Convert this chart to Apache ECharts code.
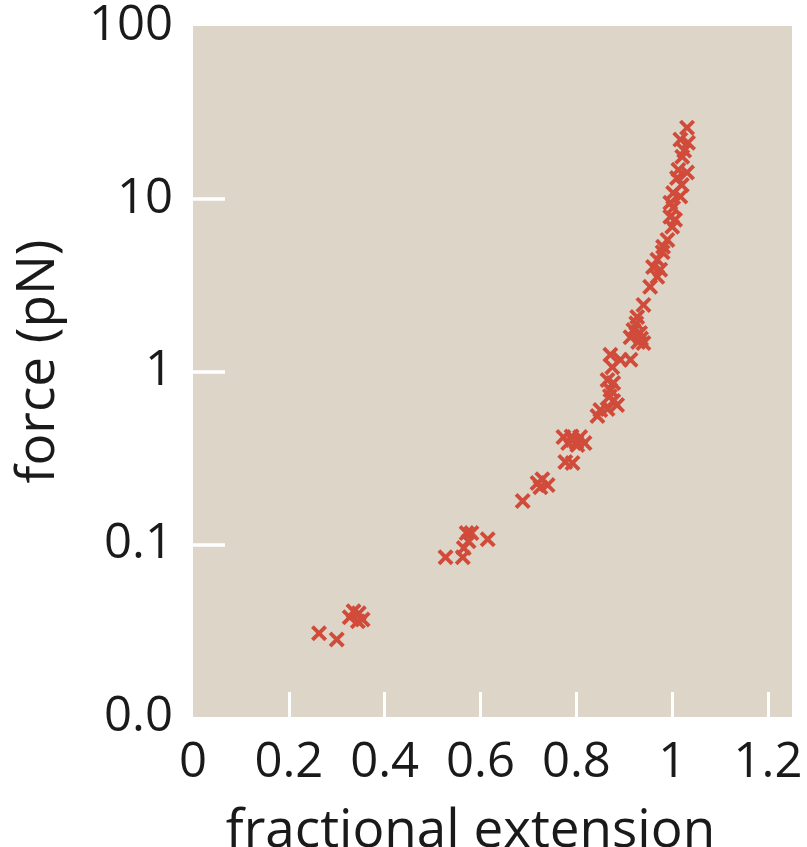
<!DOCTYPE html>
<html>
<head>
<meta charset="utf-8">
<script src="https://cdn.jsdelivr.net/npm/echarts@6/dist/echarts.min.js"></script>
<style>
  html, body { margin: 0; padding: 0; background: #ffffff; }
  #chart { width: 807px; height: 847px; }
</style>
</head>
<body>
<div id="chart"></div>
<script>
  // fractional extension (x) and force in pN (y)
  var extension = [
    0.263, 0.300, 0.327, 0.335, 0.346, 0.354, 0.344,
    0.527, 0.563, 0.565, 0.571, 0.581, 0.575, 0.615,
    0.688, 0.719, 0.729, 0.740, 0.725,
    0.777, 0.792, 0.773, 0.792, 0.808, 0.817, 0.802, 0.783, 0.790, 0.800,
    0.844, 0.850, 0.865, 0.877, 0.885, 0.871, 0.877, 0.865, 0.875, 0.871, 0.892, 0.913, 0.870,
    0.913, 0.919, 0.933, 0.929, 0.940, 0.927, 0.940, 0.935, 0.925,
    0.954, 0.969, 0.975, 0.960, 0.969, 0.980,
    0.981, 0.990, 1.000, 1.006, 0.996, 1.002, 0.996,
    1.017, 1.002, 1.010, 1.031, 1.013, 1.021, 1.033, 1.017, 1.031, 1.020, 1.025
  ];
  var force = [
    0.0305, 0.0281, 0.0378, 0.0409, 0.0398, 0.0367, 0.0358,
    0.084, 0.084, 0.095, 0.116, 0.116, 0.104, 0.107,
    0.178, 0.226, 0.238, 0.220, 0.214,
    0.299, 0.295, 0.417, 0.401, 0.417, 0.385, 0.375, 0.385, 0.420, 0.390,
    0.552, 0.598, 0.607, 0.675, 0.640, 0.781, 0.857, 0.893, 1.06, 1.25, 1.17, 1.17, 0.72,
    1.58, 1.74, 1.67, 1.48, 1.46, 2.07, 2.43, 1.55, 1.90,
    3.09, 3.53, 3.88, 4.03, 4.43, 4.9,
    5.27, 5.78, 6.88, 7.55, 7.87, 8.87, 9.48,
    10.3, 10.8, 13.2, 14.2, 14.7, 17.5, 21.1, 22.0, 25.8, 12.0, 19.0
  ];

  var xTicks = [0, 0.2, 0.4, 0.6, 0.8, 1, 1.2];
  var xTickLabels = ['0', '0.2', '0.4', '0.6', '0.8', '1', '1.2'];
  var yTicks = [0.01, 0.1, 1, 10, 100];
  var yTickLabels = ['0.0', '0.1', '1', '10', '100'];

  var points = extension.map(function (x, i) { return [x, force[i]]; });

  var FONT = '"Open Sans", "Noto Sans", sans-serif';
  var CROSS = 'path://M0,1.7L1.7,0L5,3.3L8.3,0L10,1.7L6.7,5L10,8.3L8.3,10L5,6.7L1.7,10L0,8.3L3.3,5Z';

  function pick(ticks, labels) {
    return function (value) {
      for (var i = 0; i < ticks.length; i++) {
        if (Math.abs(ticks[i] - value) < 1e-9 * Math.max(1, ticks[i])) return labels[i];
      }
      return '';
    };
  }

  var chart = echarts.init(document.getElementById('chart'));
  chart.setOption({
    animation: false,
    backgroundColor: '#ffffff',
    grid: {
      left: 193, right: 15, top: 26, bottom: 130,
      outerBoundsMode: 'none',
      containLabel: false,
      show: true, backgroundColor: '#ddd5c8', borderWidth: 0
    },
    xAxis: {
      type: 'value',
      min: 0, max: 1.25,
      name: 'fractional extension',
      nameLocation: 'middle',
      nameGap: 88,
      nameTextStyle: { fontFamily: FONT, fontSize: 53, color: '#1a1a1a', padding: [0, 44, 0, 0] },
      axisLine: { show: false },
      splitLine: { show: false },
      axisTick: {
        show: true, inside: true, length: 25,
        customValues: xTicks.slice(1),
        lineStyle: { color: '#ffffff', width: 3 }
      },
      axisLabel: {
        customValues: xTicks,
        formatter: pick(xTicks, xTickLabels),
        fontFamily: FONT, fontSize: 49, color: '#1a1a1a', margin: 22
      }
    },
    yAxis: {
      type: 'log',
      logBase: 10,
      min: 0.01, max: 100,
      name: 'force (pN)',
      nameLocation: 'middle',
      nameGap: 128,
      nameRotate: 90,
      nameTextStyle: { fontFamily: FONT, fontSize: 53, color: '#1a1a1a', padding: [0, 0, 0, 20] },
      axisLine: { show: false },
      splitLine: { show: false },
      axisTick: {
        show: true, inside: true, length: 32,
        customValues: [0.1, 1, 10],
        lineStyle: { color: '#ffffff', width: 3.5 }
      },
      axisLabel: {
        customValues: yTicks,
        formatter: pick(yTicks, yTickLabels),
        fontFamily: FONT, fontSize: 49, color: '#1a1a1a', margin: 20,
        padding: [8, 0, 0, 0]
      }
    },
    series: [{
      type: 'scatter',
      data: points,
      symbol: CROSS,
      symbolSize: 16,
      itemStyle: { color: '#d14b3b', opacity: 1 }
    }]
  });
</script>
</body>
</html>
